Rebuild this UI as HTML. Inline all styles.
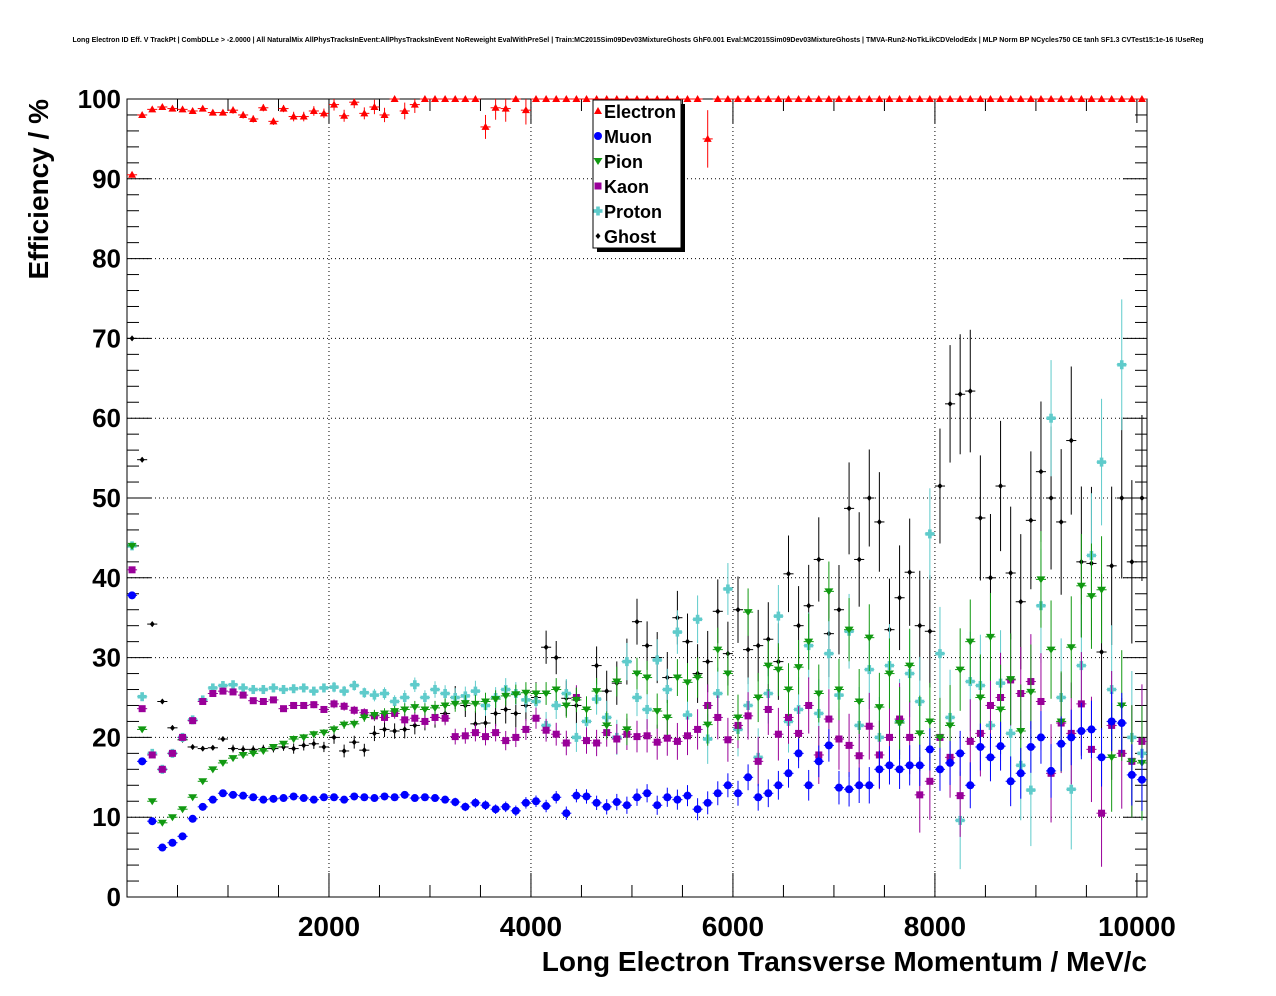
<!DOCTYPE html>
<html><head><meta charset="utf-8"><style>
body{margin:0;background:#fff;width:1276px;height:996px;overflow:hidden}
svg{display:block;font-family:"Liberation Sans",sans-serif}
</style></head><body>
<svg id="c" width="1276" height="996"></svg>
<script>
const xTicks=[2000,4000,6000,8000,10000];
const yTicks=[0,10,20,30,40,50,60,70,80,90,100];
const electron=[90.5,98,98.7,99,98.8,98.7,98.5,98.8,98.3,98.3,98.6,98,97.5,98.9,97.2,98.8,97.8,97.8,98.5,98.2,99.3,97.9,99.6,98.2,99,98,100,98.5,99.3,100,100,100,100,100,100,96.5,98.9,98.8,100,98.6,100,100,100,100,100,100,100,100,100,100,100,100,100,100,100,100,100,95,100,100,100,100,100,100,100,100,100,100,100,100,100,100,100,100,100,100,100,100,100,100,100,100,100,100,100,100,100,100,100,100,100,100,100,100,100,100,100,100,100,100,100];
const muon=[37.8,17,9.5,6.2,6.8,7.6,9.8,11.3,12.2,13,12.8,12.7,12.5,12.2,12.3,12.4,12.6,12.4,12.2,12.5,12.5,12.2,12.6,12.5,12.4,12.6,12.5,12.8,12.4,12.5,12.4,12.2,11.9,11.3,11.8,11.5,11,11.3,10.8,11.8,12,11.4,12.5,10.5,12.7,12.6,11.8,11.3,11.9,11.5,12.5,13,11.5,12.5,12.2,12.7,11,11.8,13,14,13,15,12.5,13,14,15.5,18,14,17,19,13.7,13.5,14,14,16,16.5,16,16.5,16.5,18.5,16,16.8,18,14,18.8,17.5,18.9,14.5,15.5,18.8,20,15.8,19.2,20,20.8,21,17.5,22,21.8,15.3,14.7];
const pion=[44,21,12,9.3,10,11,12.5,14.5,16,16.8,17.4,17.8,18,18.3,18.8,19.2,19.8,20,20.4,20.6,21,21.6,21.7,22.5,22.8,23,23.3,23.5,23.8,23.5,23.7,24,24.2,24.3,24.2,24.5,24.8,25.2,25.4,25.6,25.5,25.5,26,24,24.7,23.5,25.8,21.5,27,21,28,27.5,23.3,22.5,27.5,26.9,27.5,21.6,31,28,22.5,35.7,25,29,28.5,26,28.8,32,25.5,38.3,26,33.5,24.5,32.5,23.8,28,21.8,29,20.5,22,20,21.5,28.5,32,25,32.6,23.5,27.3,20.8,25.7,39.8,31,22,31.3,39,37.7,38.5,17.5,24,17,16.8];
const kaon=[41,23.6,17.8,16,18,20,22.1,24.5,25.5,25.8,25.7,25.3,24.6,24.5,24.7,23.6,24,24,24.1,23.5,24.2,23.9,23.4,23.1,22.7,22.5,23,22.2,22.4,22,22.5,22.4,20.1,20.2,20.6,20.1,20.6,19.6,20,21,22.4,20.9,20.4,19.3,25,19.6,19.3,20.6,19.8,20.4,20.1,20.2,19.4,19.9,19.5,20.2,21,24,22.5,19.7,21.5,22.7,17,23.5,20.4,22.5,20.5,24,17.8,22.3,19.8,19,17.7,21.4,17.8,20,22.3,20,12.8,14.5,20,17.5,12.7,19.5,20.5,24,25,27.2,25.5,27,24.5,15.5,21.8,20.5,24.2,18.5,10.5,21.5,18,17,19.5];
const proton=[44,25.1,18,16,18,20,22.2,24.7,26.2,26.5,26.6,26.2,26,26,26.2,26,26.1,26.2,25.8,26.2,26.3,25.8,26.5,25.6,25.3,25.5,24.5,25,26.6,25,26,25.5,25,25.2,25.8,24,25,26,25.5,24.7,24.5,21.5,24,25.5,20,22,24.8,22.5,20,29.5,25,23.5,29.7,26,33.2,22.8,34.8,19.8,25.5,38.6,21,24,17.5,25.5,35.2,22,23.5,31.5,23,30.5,25.3,33.3,21.5,28.5,20,29,22,28,24.5,45.5,30.5,22.5,9.6,27,26.5,21.5,26.8,20.5,16.5,13.4,36.5,60,25,13.5,29,42.8,54.5,26,66.7,20,18];
const ghost=[70,54.8,34.2,24.5,21.2,19.7,18.8,18.6,18.7,19.8,18.6,18.5,18.5,18.6,18.6,18.8,18.6,19,19.2,18.8,20,18.3,19.4,18.4,20.5,21,20.8,21,21.5,22,22.5,23,25,24,21.7,21.8,23,23.5,23,24,25,31.3,30,24.9,24,22,29,25.8,26.8,29.5,34.5,31.5,30,27.5,35,32,28,29.5,35.8,30.5,36,31,31.5,32.3,29.5,40.5,34,36.5,42.3,33,36,48.7,42.3,50,47,33.5,37.5,40.7,34,33.3,51.5,61.8,63,63.4,47.5,40,51.5,40.6,37,47.2,53.3,50,47,57.2,42,41.8,30.7,41.5,50,42,50];
const errBase=[0.2,0.2,0.2,0.2,0.2,0.2,0.2,0.2,0.2,0.2,0.3,0.3,0.3,0.3,0.3,0.3,0.4,0.4,0.4,0.4,0.5,0.5,0.5,0.5,0.6,0.6,0.6,0.7,0.7,0.7,0.8,0.8,0.9,0.9,1,1,1,1.1,1.1,1.2,1.2,1.3,1.3,1.4,1.4,1.5,1.5,1.6,1.7,1.8,1.8,1.9,2,2,2.1,2.2,2.3,2.4,2.5,2.5,2.6,2.7,2.8,2.9,3,3,3.1,3.2,3.3,3.4,3.5,3.6,3.7,3.8,3.9,4,4.1,4.2,4.3,4.4,4.5,4.6,4.7,4.8,4.9,5,5.1,5.2,5.3,5.4,5.5,5.6,5.7,5.8,5.9,6,6.1,6.2,6.3,6.4,6.5];
const X0=127,X1=1147,Y0=897,Y1=99,XMAX=10100;
const sx=v=>X0+(v/XMAX)*(X1-X0);
const sy=v=>Y0-(v/100)*(Y0-Y1);
const NS='http://www.w3.org/2000/svg';
const svg=document.getElementById('c');
function mk(t,a,p){const e=document.createElementNS(NS,t);for(const k in a)e.setAttribute(k,a[k]);(p||svg).appendChild(e);return e;}
let t=mk('text',{x:638,y:42,'font-size':'7','font-weight':'bold','text-anchor':'middle',textLength:'1131',lengthAdjust:'spacingAndGlyphs'});

t.textContent='Long Electron ID Eff. V TrackPt | CombDLLe > -2.0000 | All NaturalMix AllPhysTracksInEvent:AllPhysTracksInEvent NoReweight EvalWithPreSel | Train:MC2015Sim09Dev03MixtureGhosts GhF0.001 Eval:MC2015Sim09Dev03MixtureGhosts | TMVA-Run2-NoTkLikCDVelodEdx | MLP Norm BP NCycles750 CE tanh SF1.3 CVTest15:1e-16 !UseReg';
xTicks.forEach(v=>{if(v<10000){const l=mk('line',{x1:sx(v),x2:sx(v),y1:Y1,y2:Y0,stroke:'#000','stroke-dasharray':'1,3','stroke-width':1});}});
yTicks.forEach(v=>{if(v>0&&v<100){const l=mk('line',{x1:X0,x2:X1,y1:sy(v),y2:sy(v),stroke:'#000','stroke-dasharray':'1,3','stroke-width':1});}});
const fr=mk('rect',{x:X0,y:Y1,width:X1-X0,height:Y0-Y1,fill:'none',stroke:'#000','stroke-width':1});

for(let v=0;v<=100;v+=2){const L=(v%10===0)?24:12;mk('line',{x1:X0,x2:X0+L,y1:sy(v),y2:sy(v),stroke:'#000'});mk('line',{x1:X1,x2:X1-L,y1:sy(v),y2:sy(v),stroke:'#000'});}
for(let v=500;v<=10000;v+=500){const L=(v%2000===0)?24:12;mk('line',{x1:sx(v),x2:sx(v),y1:Y0,y2:Y0-L,stroke:'#000'});mk('line',{x1:sx(v),x2:sx(v),y1:Y1,y2:Y1+L,stroke:'#000'});}
yTicks.forEach(v=>{const e=mk('text',{x:X0-6,y:sy(v)+9,'font-size':'26','font-weight':'bold','text-anchor':'end'});e.textContent=v;});
xTicks.forEach(v=>{const e=mk('text',{x:sx(v),y:936,'font-size':'28','font-weight':'bold','text-anchor':'middle'});e.textContent=v;});
let xt=mk('text',{x:1147,y:971,'font-size':'28','font-weight':'bold','text-anchor':'end'});
xt.textContent='Long Electron Transverse Momentum / MeV/c';
let yt=mk('text',{x:0,y:0,'font-size':'28','font-weight':'bold','text-anchor':'end',transform:'translate(48,99) rotate(-90)'});
yt.textContent='Efficiency / %';
function marker(g,type,x,y,c){
 if(type==='tu')mk('polygon',{points:`${x},${y-4} ${x-4},${y+3} ${x+4},${y+3}`,fill:c},g);
 else if(type==='td')mk('polygon',{points:`${x},${y+4} ${x-4.5},${y-3} ${x+4.5},${y-3}`,fill:c},g);
 else if(type==='c')mk('circle',{cx:x,cy:y,r:4,fill:c},g);
 else if(type==='s')mk('rect',{x:x-3.5,y:y-3.5,width:7,height:7,fill:c},g);
 else if(type==='p'){mk('rect',{x:x-4.5,y:y-1.8,width:9,height:3.6,fill:c},g);mk('rect',{x:x-1.8,y:y-4.5,width:3.6,height:9,fill:c},g);}
 else if(type==='d')mk('polygon',{points:`${x},${y-3} ${x-2.5},${y} ${x},${y+3} ${x+2.5},${y}`,fill:c},g);
}
const series=[
 ['ghost-series',ghost,'d','#000',1.6],
 ['proton-series',proton,'p','#5fcbcb',1.3],
 ['kaon-series',kaon,'s','#990099',1.1],
 ['pion-series',pion,'td','#119911',1.1],
 ['muon-series',muon,'c','#0000ff',0.6],
 ['electron-series',electron,'tu','#ff0000',1.5]];
const bw=(X1-X0)/101;
series.forEach(([nm,arr,ty,col,ef])=>{
 const g=mk('g',{});
 arr.forEach((v,i)=>{
  if(i>100)return;
  const x=sx(i*100+50),y=sy(v),e=errBase[i]*ef*(v>=99.9?0:1);
  mk('line',{x1:x-bw/2,x2:x+bw/2,y1:y,y2:y,stroke:col,'stroke-width':1},g);
  mk('line',{x1:x,x2:x,y1:Math.max(Y1,sy(Math.min(100,v+e))),y2:Math.min(Y0,sy(v-e)),stroke:col,'stroke-width':1},g);
  marker(g,ty,x,y,col);
 });
});
const lg=mk('g',{});
mk('rect',{x:597,y:104,width:88,height:148,fill:'#000'},lg);
mk('rect',{x:593,y:100,width:88,height:148,fill:'#fff',stroke:'#000'},lg);
const names=['Electron','Muon','Pion','Kaon','Proton','Ghost'];
const lt=['tu','c','td','s','p','d'],lc=['#ff0000','#0000ff','#119911','#990099','#5fcbcb','#000'];
names.forEach((n,i)=>{const e=mk('g',{},lg);
 const y=111+i*25;marker(e,lt[i],598,y,lc[i]);const tx=mk('text',{x:604,y:y+7,'font-size':'18','font-weight':'bold'},e);tx.textContent=n;});
</script>
</body></html>
